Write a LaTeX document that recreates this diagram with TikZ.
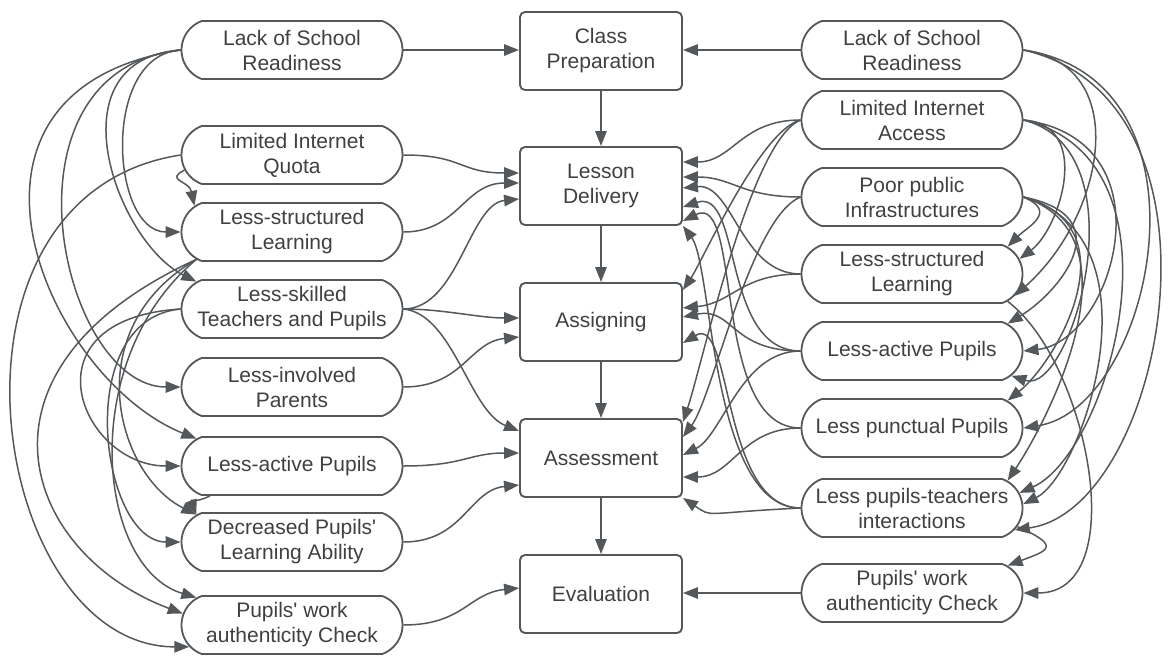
\documentclass[tikz,border=0pt]{standalone}
\usepackage{fontspec}
\setmainfont{Liberation Sans}
\usetikzlibrary{arrows.meta,shapes.misc,calc}
\definecolor{ln}{RGB}{84,88,90}
\definecolor{tx}{RGB}{62,64,66}
\begin{document}
\begin{tikzpicture}[x=1pt,y=-1pt,
  oval/.style={rounded rectangle, rounded rectangle arc length=140, draw=ln, line width=1.8pt,
    minimum width=221pt, minimum height=58pt, inner sep=0pt, align=center, text=tx,
    font=\fontsize{21}{25}\selectfont},
  box/.style={rectangle, rounded corners=5pt, draw=ln, line width=1.9pt,
    minimum width=162pt, minimum height=78pt, inner sep=0pt, align=center, text=tx,
    font=\fontsize{21}{25}\selectfont},
  arr/.style={draw=ln, line width=1.5pt, -{Triangle[length=15pt,width=11.5pt]}}]
\useasboundingbox (0,0) rectangle (1170,657);
% left column
\node[oval] (L1) at (292,50) {Lack of School\\Readiness};
\node[oval] (L2) at (292,155) {Limited Internet\\Quota};
\node[oval] (L3) at (292,232) {Less-structured\\Learning};
\node[oval] (L4) at (292,309) {Less-skilled\\Teachers and Pupils};
\node[oval] (L5) at (292,387) {Less-involved\\Parents};
\node[oval] (L6) at (292,466) {Less-active Pupils};
\node[oval] (L7) at (292,542) {Decreased Pupils\textquotesingle\\Learning Ability};
\node[oval] (L8) at (292,625) {Pupils\textquotesingle{} work\\authenticity Check};
% centre column
\node[box] (C1) at (601,51) {Class\\Preparation};
\node[box] (C2) at (601,186) {Lesson\\Delivery};
\node[box] (C3) at (601,322) {Assigning};
\node[box] (C4) at (601,458) {Assessment};
\node[box] (C5) at (601,594) {Evaluation};
% right column
\node[oval] (R1) at (912,50) {Lack of School\\Readiness};
\node[oval] (R2) at (912,120) {Limited Internet\\Access};
\node[oval] (R3) at (912,197) {Poor public\\Infrastructures};
\node[oval] (R4) at (912,274) {Less-structured\\Learning};
\node[oval] (R5) at (912,351) {Less-active Pupils};
\node[oval] (R6) at (912,428) {Less punctual Pupils};
\node[oval] (R7) at (912,508) {Less pupils-teachers\\interactions};
\node[oval] (R8) at (912,593) {Pupils\textquotesingle{} work\\authenticity Check};
% spine
\draw[arr] (C1.south) -- (C2.north);
\draw[arr] (C2.south) -- (C3.north);
\draw[arr] (C3.south) -- (C4.north);
\draw[arr] (C4.south) -- (C5.north);
% left to centre
\draw[arr] (L1.east) -- (C1.west |- L1.east);
\draw[arr] (L2.east) .. controls +(60,0) and +(-60,0) .. ($(C2.west)+(0,-13)$);
\draw[arr] (L3.east) .. controls +(55,0) and +(-55,0) .. ($(C2.west)+(0,-3)$);
\draw[arr] (L4.east) .. controls +(55,0) and +(-50,5) .. ($(C2.west)+(0,13)$);
\draw[arr] (L4.east) .. controls +(40,0) and +(-40,0) .. ($(C3.west)+(0,-4)$);
\draw[arr] (L4.east) .. controls +(50,5) and +(-50,-20) .. ($(C4.west)+(0,-27)$);
\draw[arr] (L5.east) .. controls +(60,0) and +(-50,5) .. ($(C3.west)+(0,15)$);
\draw[arr] (L6.east) .. controls +(60,0) and +(-50,0) .. ($(C4.west)+(0,-5)$);
\draw[arr] (L7.east) .. controls +(60,0) and +(-50,5) .. ($(C4.west)+(0,27)$);
\draw[arr] (L8.east) .. controls +(60,0) and +(-50,5) .. ($(C5.west)+(0,-6)$);
% right to centre
\draw[arr] (R1.west) -- (C1.east |- R1.west);
\draw[arr] (R8.west) -- (C5.east |- R8.west);
\draw[arr] (R2.west) .. controls +(-60,0) and +(50,0) .. ($(C2.east)+(0,-24)$);
\draw[arr] (R3.west) .. controls +(-60,0) and +(50,0) .. ($(C2.east)+(0,-9)$);
\draw[arr] (R4.west) .. controls +(-60,0) and +(50,-5) .. ($(C2.east)+(0,2)$);
\draw[arr] (R5.west) .. controls +(-80,0) and +(60,-20) .. ($(C2.east)+(0,21)$);
\draw[arr] (R6.west) .. controls +(-90,0) and +(60,-30) .. ($(C2.east)+(0,35)$);
\draw[arr] (R7.west) .. controls +(-90,0) and +(30,40) .. (C2.south east);
\draw[arr] (R2.west) .. controls +(-40,10) and +(20,-30) .. ($(C3.east)+(0,-32)$);
\draw[arr] (R4.west) .. controls +(-60,0) and +(50,-5) .. ($(C3.east)+(0,-14)$);
\draw[arr] (R5.west) .. controls +(-70,0) and +(50,-10) .. ($(C3.east)+(0,-5)$);
\draw[arr] (R7.west) .. controls +(-80,0) and +(50,-30) .. ($(C3.east)+(0,21)$);
\draw[arr] (R2.west) .. controls +(-50,20) and +(20,-60) .. ($(C4.east)+(0,-36)$);
\draw[arr] (R3.west) .. controls +(-50,20) and +(30,-40) .. ($(C4.east)+(0,-21)$);
\draw[arr] (R5.west) .. controls +(-60,0) and +(40,-20) .. ($(C4.east)+(0,-3)$);
\draw[arr] (R6.west) .. controls +(-60,0) and +(50,0) .. ($(C4.east)+(0,19)$);
\draw[arr] (R7.west) .. controls +(-100,5) and +(30,20) .. (C4.south east);
% left inner arcs
\draw[arr] (L2.188) .. controls +(-20,10) and +(-5,-25) .. (L3.165);
\draw[arr] (L1.west) .. controls +(-80,5) and +(-70,0) .. (L3.west);
\draw[arr] (L1.west) .. controls +(-130,10) and +(-80,-40) .. (L4.164);
\draw[arr] (L1.west) .. controls +(-190,20) and +(-120,0) .. (L5.west);
\draw[arr] (L1.west) .. controls +(-260,40) and +(-150,-60) .. (L6.164);
\draw[arr] (L2.west) .. controls +(-260,40) and +(-200,0) .. (L8.192);
\draw[arr] (L4.west) .. controls +(-160,10) and +(-100,0) .. (L6.west);
\draw[arr] (L4.west) .. controls +(-110,10) and +(-80,0) .. (L7.west);
\draw[arr] (L6.200) .. controls +(-16,8) and +(-6,-16) .. (L7.164);
\draw[arr] (L3.196) .. controls +(-120,70) and +(-80,-40) .. (L7.164);
\draw[arr] (L3.196) .. controls +(-120,100) and +(-100,-30) .. (L8.164);
\draw[arr] (L3.196) .. controls +(-240,110) and +(-160,-60) .. (L8.174);
% right outer arcs
\draw[arr] (R1.east) .. controls +(110,15) and +(90,-80) .. (R4.-12);
\draw[arr] (R1.east) .. controls +(200,30) and +(130,-20) .. (R6.east);
\draw[arr] (R1.east) .. controls +(220,50) and +(150,-20) .. (R7.-12);
\draw[arr] (R2.east) .. controls +(70,5) and +(40,-30) .. (R4.8);
\draw[arr] (R2.east) .. controls +(150,20) and +(90,-10) .. (R5.east);
\draw[arr] (R2.east) .. controls +(170,40) and +(90,-40) .. (R7.8);
\draw[arr] (R2.east) .. controls +(120,30) and +(60,20) .. (R5.-14);
\draw[arr] (R3.east) .. controls +(35,15) and +(20,-20) .. (R4.16);
\draw[arr] (R3.east) .. controls +(100,20) and +(50,-30) .. (R5.16);
\draw[arr] (R3.east) .. controls +(110,30) and +(50,-40) .. (R6.16);
\draw[arr] (R3.east) .. controls +(120,40) and +(40,-60) .. (R7.16);
\draw[arr] (R3.east) .. controls +(140,40) and +(60,-30) .. (R7.2);
\draw[arr] (R4.-16) .. controls +(80,60) and +(110,0) .. (R8.east);
\draw[arr] (R7.-10) .. controls +(45,20) and +(40,-15) .. (R8.16);
\end{tikzpicture}
\end{document}
